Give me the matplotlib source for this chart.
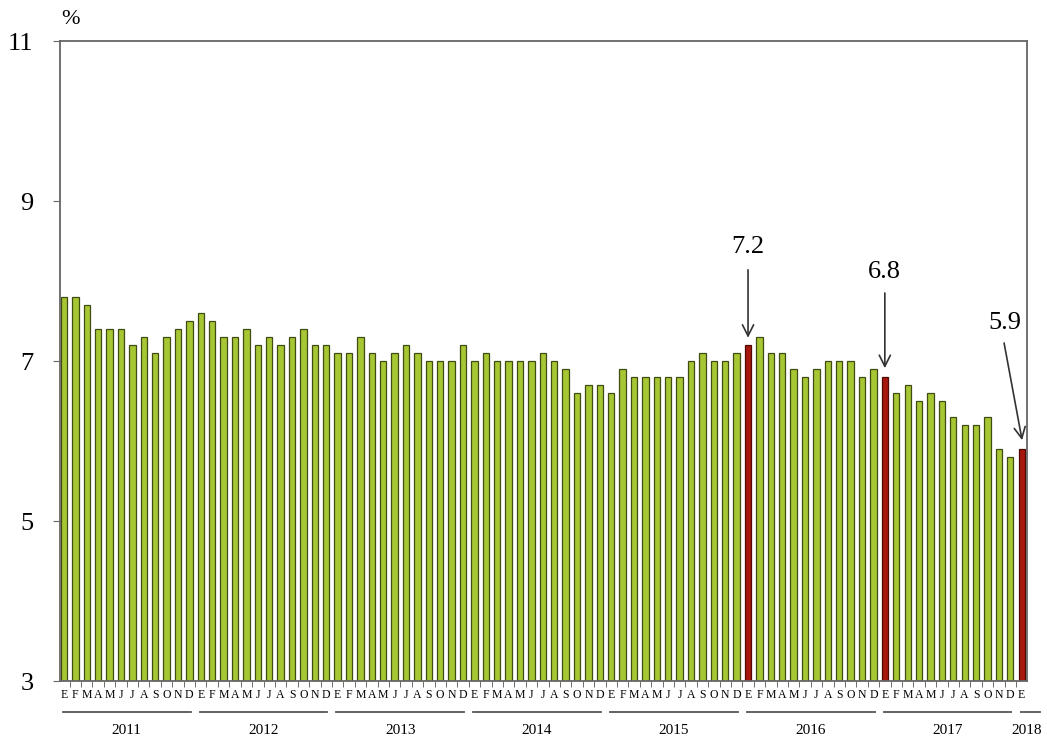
import matplotlib
matplotlib.use("Agg")
import matplotlib.pyplot as plt
import numpy as np

plt.rcParams['font.family'] = ['Liberation Serif', 'DejaVu Serif']

years = ['2011', '2012', '2013', '2014', '2015', '2016', '2017', '2018']
months = ['E', 'F', 'M', 'A', 'M', 'J', 'J', 'A', 'S', 'O', 'N', 'D']
values = [
    7.8, 7.8, 7.7, 7.4, 7.4, 7.4, 7.2, 7.3, 7.1, 7.3, 7.4, 7.5,   # 2011
    7.6, 7.5, 7.3, 7.3, 7.4, 7.2, 7.3, 7.2, 7.3, 7.4, 7.2, 7.2,   # 2012
    7.1, 7.1, 7.3, 7.1, 7.0, 7.1, 7.2, 7.1, 7.0, 7.0, 7.0, 7.2,   # 2013
    7.0, 7.1, 7.0, 7.0, 7.0, 7.0, 7.1, 7.0, 6.9, 6.6, 6.7, 6.7,   # 2014
    6.6, 6.9, 6.8, 6.8, 6.8, 6.8, 6.8, 7.0, 7.1, 7.0, 7.0, 7.1,   # 2015
    7.2, 7.3, 7.1, 7.1, 6.9, 6.8, 6.9, 7.0, 7.0, 7.0, 6.8, 6.9,   # 2016
    6.8, 6.6, 6.7, 6.5, 6.6, 6.5, 6.3, 6.2, 6.2, 6.3, 5.9, 5.8,   # 2017
    5.9,                                                          # 2018
]
highlight_idx = [60, 72, 84]
highlight_text = ['7.2', '6.8', '5.9']
labels = [months[i % 12] for i in range(len(values))]

fig = plt.figure(figsize=(10.47, 7.4), dpi=100)
ax = fig.add_axes([60/1047, 1 - 681/740, (1027-60)/1047, (681-41)/740])

x = np.arange(len(values))
green = '#a6c634'
green_edge = '#3f4d12'
red = '#a8170d'
red_edge = '#4f0a05'
colors = [red if i in highlight_idx else green for i in x]
edges = [red_edge if i in highlight_idx else green_edge for i in x]
bottom = 3
ax.bar(x, np.array(values) - bottom, bottom=bottom, width=0.55,
       color=colors, edgecolor=edges, linewidth=0.9)

ax.set_ylim(3, 11)
ax.set_xlim(-0.35, 84.47)
ax.set_yticks([3, 5, 7, 9, 11])
ax.tick_params(axis='y', labelsize=19, length=5, direction='out', color='#666666', pad=14)

ax.set_xticks(x)
ax.set_xticklabels(labels, fontsize=8.5)
ax.tick_params(axis='x', length=0, pad=6)
ax.set_xticks(x[:-1] + 0.5, minor=True)
ax.tick_params(axis='x', which='minor', length=4, direction='out', color='#555555')

for s in ax.spines.values():
    s.set_color('#666666')
    s.set_linewidth(1.3)

# year separators and labels
trans = ax.get_xaxis_transform()
for k, yr in enumerate(years):
    start = k * 12
    if yr == '2018':
        x0, x1 = start - 0.1, start + 1.6
        xc = start + 0.4
    else:
        x0, x1 = start - 0.1, start + 11.1
        xc = start + 5.5
    ax.plot([x0, x1], [-0.048, -0.048], transform=trans, color='#555555',
            linewidth=1.3, clip_on=False)
    ax.text(xc, -0.078, yr, transform=trans, ha='center', va='center',
            fontsize=11)

# percent sign
fig.text(70/1047, 1 - 20/740, '%', ha='center', va='center', fontsize=16)

# annotations: text centre, arrow start, arrow tip (data coords)
text_pos = [(60, 8.425), (72, 8.11), (82.54, 7.475)]
arrow_start = [(60, 8.14), (72, 7.85), (82.46, 7.225)]
arrow_tip = [(60, 7.29), (72, 6.91), (84.04, 6.01)]
arrowprops = dict(arrowstyle='->', color='#333333', lw=1.2, mutation_scale=20,
                  shrinkA=0, shrinkB=0)
for t, tp, a0, a1 in zip(highlight_text, text_pos, arrow_start, arrow_tip):
    ax.text(tp[0], tp[1], t, ha='center', va='center', fontsize=19)
    ax.annotate('', xy=a1, xytext=a0, arrowprops=arrowprops)

fig.savefig('out.png', dpi=100)
